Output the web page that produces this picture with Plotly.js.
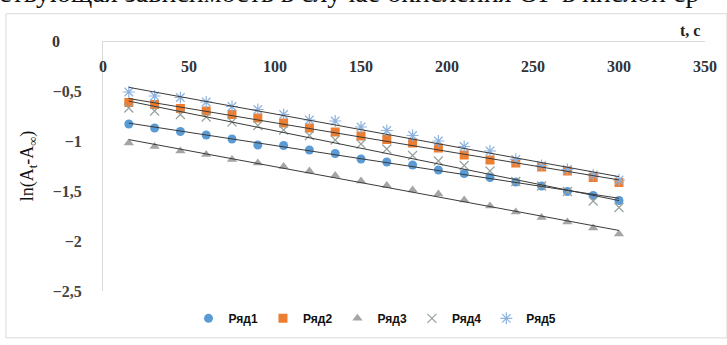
<!DOCTYPE html>
<html>
<head>
<meta charset="utf-8">
<script src="https://cdn.plot.ly/plotly-3.0.1.min.js"></script>
<style>html,body{margin:0;padding:0;background:#fff;}#chart{width:727px;height:345px;}</style>
</head>
<body>
<div id="chart"></div>
<script>
// ---- data ----
var tValues = [15,30,45,60,75,90,105,120,135,150,165,180,195,210,225,240,255,270,285,300];
var seriesNames = ["Ряд1","Ряд2","Ряд3","Ряд4","Ряд5"];
var ryad1 = [-0.83,-0.87,-0.905,-0.94,-0.98,-1.04,-1.045,-1.09,-1.125,-1.18,-1.21,-1.24,-1.29,-1.325,-1.365,-1.41,-1.45,-1.505,-1.545,-1.595];
var ryad2 = [-0.615,-0.635,-0.675,-0.70,-0.735,-0.77,-0.82,-0.87,-0.91,-0.95,-0.985,-1.02,-1.07,-1.14,-1.19,-1.22,-1.26,-1.30,-1.365,-1.415];
var ryad3 = [-1.02,-1.055,-1.10,-1.135,-1.185,-1.22,-1.255,-1.30,-1.345,-1.40,-1.445,-1.49,-1.53,-1.59,-1.65,-1.71,-1.765,-1.81,-1.87,-1.93];
var ryad4 = [-0.67,-0.70,-0.735,-0.76,-0.81,-0.845,-0.89,-0.945,-0.99,-1.03,-1.08,-1.145,-1.20,-1.245,-1.30,-1.405,-1.45,-1.505,-1.60,-1.665];
var ryad5 = [-0.51,-0.55,-0.565,-0.61,-0.655,-0.685,-0.735,-0.79,-0.80,-0.86,-0.895,-0.945,-1.00,-1.055,-1.10,-1.185,-1.245,-1.285,-1.34,-1.39];
var xTickVals = [0,50,100,150,200,250,300,350];
var yTickVals = [-0.5,-1,-1.5,-2,-2.5];
var yTopLabel = "0";
var xAxisLabel = "t, c";
var yAxisLabel = "ln(A<sub>t</sub>-A<sub>∞</sub>)";
var headerText = "ствующая зависимость в случае окисления ОГ в кислой ср";

// ---- styles ----
var allSeries = [ryad1, ryad2, ryad3, ryad4, ryad5];
var markerStyles = [
  {symbol:"circle", color:"#5b9bd5", size:9},
  {symbol:"square", color:"#ed7d31", size:9},
  {symbol:"triangle-up", color:"#a5a5a5", size:9},
  {symbol:"x-thin-open", color:"#97a39c", size:9, line:{color:"#97a39c", width:1.2}},
  {symbol:"asterisk-open", color:"#8db3de", size:10, line:{color:"#8db3de", width:1.2}}
];

function linFit(xs, ys){
  var n = xs.length, sx=0, sy=0, sxx=0, sxy=0;
  for (var i=0;i<n;i++){ sx+=xs[i]; sy+=ys[i]; sxx+=xs[i]*xs[i]; sxy+=xs[i]*ys[i]; }
  var b = (n*sxy - sx*sy)/(n*sxx - sx*sx);
  var a = (sy - b*sx)/n;
  return function(x){ return a + b*x; };
}

var traces = [];
allSeries.forEach(function(ys, i){
  traces.push({
    type:"scatter", mode:"markers", x:tValues, y:ys, name:seriesNames[i],
    marker:markerStyles[i], cliponaxis:false
  });
});
allSeries.forEach(function(ys){
  var f = linFit(tValues, ys);
  var x0 = tValues[0], x1 = tValues[tValues.length-1];
  traces.push({
    type:"scatter", mode:"lines", x:[x0,x1], y:[f(x0), f(x1)],
    line:{color:"#3a3a3a", width:1}, showlegend:false, hoverinfo:"skip"
  });
});

var L=103, R=22, T=41, B=48, W=727, H=345;
var pw = W-L-R, ph = H-T-B;
function px(x){ return (x-L)/pw; }
function py(y){ return (H-B-y)/ph; }

var serif = "Liberation Serif, Times New Roman, serif";
var layout = {
  width:W, height:H,
  margin:{l:L, r:R, t:T, b:B, pad:0},
  paper_bgcolor:"#fff", plot_bgcolor:"#fff",
  separators:", ",
  showlegend:true,
  legend:{orientation:"h", x:px(375), xanchor:"center", y:py(325), yanchor:"middle",
    font:{family:"Liberation Sans, Arial, sans-serif", size:12, color:"#111", weight:700},
    itemwidth:30, tracegroupgap:0, bgcolor:"rgba(0,0,0,0)"},
  xaxis:{range:[0,350], tickvals:xTickVals, anchor:"free", position:1, side:"bottom",
    showline:true, linecolor:"#d9d9d9", linewidth:1, showgrid:false, zeroline:false,
    ticks:"outside", ticklen:11, tickcolor:"rgba(0,0,0,0)",
    tickfont:{family:serif, size:16, color:"#333", weight:700}},
  yaxis:{range:[-2.5,0], tickvals:yTickVals, showline:true, linecolor:"#d9d9d9", linewidth:1,
    showgrid:false, zeroline:false, ticks:"outside", ticklen:17, tickcolor:"rgba(0,0,0,0)",
    tickfont:{family:serif, size:16, color:"#444", weight:700},
    title:{text:yAxisLabel, standoff:14, font:{family:serif, size:18, color:"#111"}}},
  shapes:[{type:"rect", xref:"paper", yref:"paper", x0:px(6), x1:px(727), y0:py(345), y1:py(13),
    line:{color:"#d9d9d9", width:1}, fillcolor:"rgba(0,0,0,0)", layer:"below"}],
  annotations:[
    {text:yTopLabel, xref:"paper", yref:"y", x:px(62), y:0, xanchor:"right", yanchor:"middle", showarrow:false,
      font:{family:serif, size:16, color:"#333", weight:700}},
    {text:xAxisLabel, xref:"paper", yref:"paper", x:px(690), y:py(30), xanchor:"center", yanchor:"middle", showarrow:false,
      font:{family:serif, size:16, color:"#222", weight:700}},
    {text:headerText, xref:"paper", yref:"paper", x:px(-3), y:py(9), xanchor:"left", yanchor:"bottom", showarrow:false,
      font:{family:serif, size:28, color:"#111"}}
  ]
};

Plotly.newPlot("chart", traces, layout, {staticPlot:true, displayModeBar:false});
</script>
</body>
</html>
